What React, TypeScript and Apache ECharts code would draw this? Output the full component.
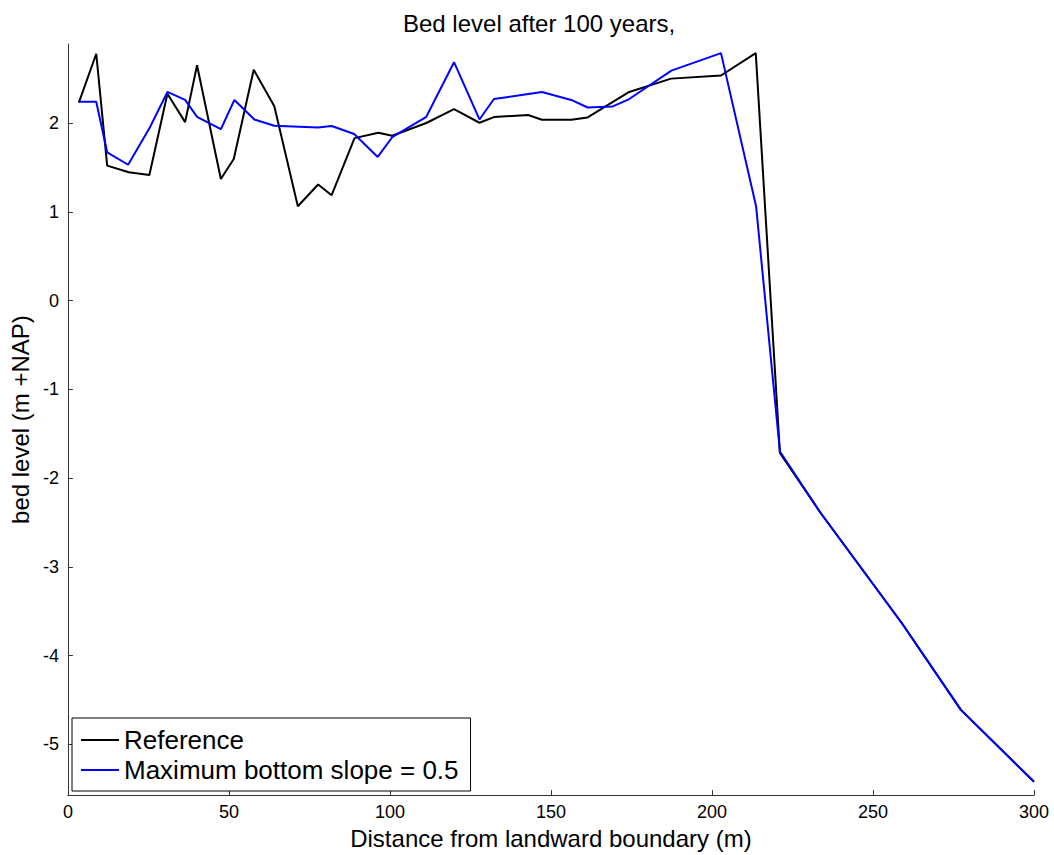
import React, { useEffect, useRef } from "react";
import * as echarts from "echarts";

const titleText = "Bed level after 100 years,";
const xLabel = "Distance from landward boundary (m)";
const yLabel = "bed level (m +NAP)";
const seriesNames = ["Reference", "Maximum bottom slope = 0.5"];

const xTicks = [0, 50, 100, 150, 200, 250, 300];
const yTicks = [-5, -4, -3, -2, -1, 0, 1, 2];

const referenceX = [3.4, 8.8, 12.2, 18.9, 25.3, 30.9, 36.4, 40.1, 47.5, 51.5, 57.7, 64.1, 71.4, 77.7, 81.9, 89.0, 96.4, 100.7, 111.3, 119.9, 127.8, 132.3, 142.9, 147.2, 156.3, 161.4, 174.3, 187.3, 202.8, 213.6, 221.1, 233.7, 259.1, 277.3, 300];
const referenceY = [2.23, 2.78, 1.52, 1.445, 1.415, 2.33, 2.01, 2.65, 1.37, 1.595, 2.6, 2.19, 1.063, 1.307, 1.187, 1.83, 1.89, 1.857, 2.0, 2.157, 2.003, 2.067, 2.09, 2.037, 2.037, 2.063, 2.35, 2.5, 2.535, 2.787, -1.716, -2.39, -3.64, -4.61, -5.42];

const slopeX = [3.4, 8.8, 12.2, 18.7, 25.3, 30.9, 36.4, 40.1, 47.5, 51.7, 57.9, 64.1, 77.7, 81.9, 88.9, 96.2, 100.7, 111.3, 119.9, 127.8, 132.3, 147.2, 156.3, 161.4, 169.2, 174.3, 187.4, 202.8, 213.7, 221.1, 233.7, 259.1, 277.3, 300];
const slopeY = [2.24, 2.24, 1.67, 1.53, 1.94, 2.35, 2.26, 2.07, 1.93, 2.26, 2.04, 1.97, 1.95, 1.966, 1.876, 1.618, 1.84, 2.07, 2.685, 2.04, 2.27, 2.35, 2.26, 2.175, 2.187, 2.27, 2.59, 2.787, 1.063, -1.7, -2.39, -3.64, -4.61, -5.42];

const FONT = "Arial, 'Liberation Sans', Helvetica, sans-serif";

export default function App() {
  const ref = useRef<HTMLDivElement>(null);
  useEffect(() => {
    if (!ref.current) return;
    const chart = echarts.init(ref.current, null, { renderer: "svg" });
    const axisColor = "#333";
    chart.setOption({
      animation: false,
      backgroundColor: "#fff",
      title: {
        text: titleText,
        left: 398,
        top: 6,
        textStyle: { fontFamily: FONT, fontSize: 24, fontWeight: "normal", color: "#000" },
      },
      grid: { left: 66, right: 20, top: 44, bottom: 58, containLabel: false },
      legend: {
        orient: "vertical",
        left: 72,
        top: 718,
        padding: [9, 12, 8, 9],
        itemWidth: 38,
        itemHeight: 2,
        itemGap: 4,
        borderColor: "#000",
        borderWidth: 1,
        backgroundColor: "#fff",
        textStyle: { fontFamily: FONT, fontSize: 26, lineHeight: 26, color: "#000" },
        data: seriesNames.map((n) => ({ name: n, icon: "rect" })),
      },
      xAxis: {
        type: "value",
        min: 0,
        max: 300,
        interval: 50,
        name: xLabel,
        nameLocation: "middle",
        nameGap: 27,
        nameTextStyle: { fontFamily: FONT, fontSize: 24, color: "#000" },
        axisLine: { onZero: false, lineStyle: { color: axisColor, width: 1 } },
        axisTick: { inside: true, length: 5, lineStyle: { color: axisColor } },
        axisLabel: { fontFamily: FONT, fontSize: 18, color: "#000", margin: 8, customValues: xTicks },
        splitLine: { show: false },
      },
      yAxis: {
        type: "value",
        min: -5.57,
        max: 2.89,
        name: yLabel,
        nameLocation: "middle",
        nameRotate: 90,
        nameGap: 26,
        nameTextStyle: { fontFamily: FONT, fontSize: 24, color: "#000" },
        axisLine: { show: true, lineStyle: { color: axisColor, width: 1 } },
        axisTick: { show: true, inside: true, length: 5, customValues: yTicks, lineStyle: { color: axisColor } },
        axisLabel: { fontFamily: FONT, fontSize: 18, color: "#000", margin: 9, customValues: yTicks },
        splitLine: { show: false },
      },
      series: [
        {
          name: seriesNames[0],
          type: "line",
          symbol: "none",
          data: referenceX.map((x, i) => [x, referenceY[i]]),
          lineStyle: { color: "#000", width: 2 },
          itemStyle: { color: "#000" },
        },
        {
          name: seriesNames[1],
          type: "line",
          symbol: "none",
          data: slopeX.map((x, i) => [x, slopeY[i]]),
          lineStyle: { color: "#0000ff", width: 2 },
          itemStyle: { color: "#0000ff" },
        },
      ],
    });
    return () => chart.dispose();
  }, []);
  return (
    <div
      ref={ref}
      style={{ position: "absolute", left: 0, top: 0, width: 1054, height: 855, background: "#fff" }}
    />
  );
}
